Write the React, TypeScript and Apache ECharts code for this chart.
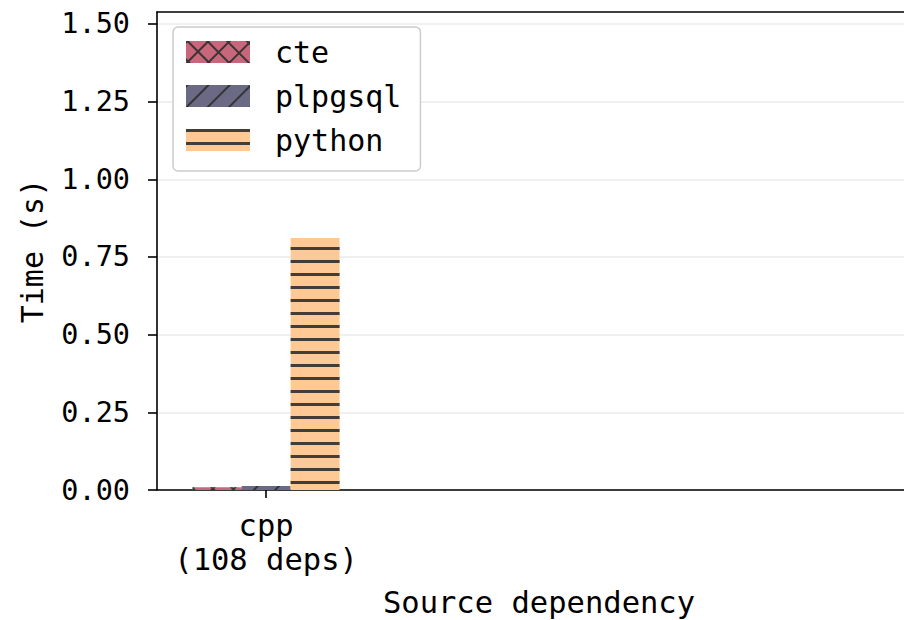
import React, { useEffect, useRef } from "react";
import * as echarts from "echarts";

// ---- data ----
const categories: string[] = ["cpp\n(108 deps)"];
const categoryPositions: number[] = [0];
const seriesNames: string[] = ["cte", "plpgsql", "python"];
const cteValues: number[] = [0.009];
const plpgsqlValues: number[] = [0.013];
const pythonValues: number[] = [0.811];
const yTicks: number[] = [0, 0.25, 0.5, 0.75, 1.0, 1.25, 1.5];
const yMax = 1.5385;
const xMin = -0.59;
const xMax = 3.45;

const FONT = "DejaVu Sans Mono";
const HATCH = "rgba(45,45,45,0.9)";

const crossRows: number[][] = [[1, 0], [2, 13], [2, 13], [2, 13], [2, 13], [2, 13], [2, 13]];

export default function App() {
  const ref = useRef<HTMLDivElement>(null);
  useEffect(() => {
    if (!ref.current) return;
    const chart = echarts.init(ref.current, null, { renderer: "svg" });
    const toData = (vals: number[]) => vals.map((v, i) => [categoryPositions[i], v]);
    const option: any = {
      animation: false,
      backgroundColor: "#ffffff",
      grid: {
        left: 157,
        top: 12,
        right: 0,
        bottom: 130,
        containLabel: false,
        outerBoundsMode: "none",
        show: false,
      },
      legend: {
        orient: "vertical",
        left: 173,
        top: 27,
        itemWidth: 64,
        itemHeight: 22,
        itemGap: 14,
        icon: "rect",
        padding: [10, 19, 16, 13],
        backgroundColor: "#ffffff",
        borderColor: "#cccccc",
        borderWidth: 1.5,
        borderRadius: 5,
        textStyle: {
          fontFamily: FONT,
          fontSize: 30,
          lineHeight: 30,
          color: "#000",
          padding: [0, 0, 0, 20],
        },
        data: seriesNames,
      },
      xAxis: [
        {
          type: "value",
          min: xMin,
          max: xMax,
          axisLine: { show: true, onZero: false, lineStyle: { color: "#000", width: 1.6 } },
          axisTick: {
            show: true,
            customValues: categoryPositions,
            length: 8,
            lineStyle: { color: "#000", width: 1.6 },
          },
          axisLabel: {
            customValues: categoryPositions,
            formatter: (v: number) => {
              const i = categoryPositions.indexOf(v);
              return i >= 0 ? categories[i] : "";
            },
            fontFamily: FONT,
            fontSize: 30.5,
            lineHeight: 34,
            color: "#000",
            margin: 18,
          },
          splitLine: { show: false },
          name: "Source dependency",
          nameLocation: "middle",
          nameGap: 97,
          nameTextStyle: {
            fontFamily: FONT,
            fontSize: 30.5,
            lineHeight: 30,
            color: "#000",
            padding: [0, 0, 0, 17],
          },
        },
        {
          type: "value",
          position: "top",
          min: xMin,
          max: xMax,
          axisLine: { show: true, onZero: false, lineStyle: { color: "#000", width: 1.6 } },
          axisTick: { show: false },
          axisLabel: { show: false },
          splitLine: { show: false },
        },
      ],
      yAxis: {
        type: "value",
        min: 0,
        max: yMax,
        interval: 0.25,
        axisLine: { show: true, onZero: false, lineStyle: { color: "#000", width: 1.6 } },
        axisTick: {
          show: true,
          customValues: yTicks,
          length: 9,
          lineStyle: { color: "#000", width: 1.6 },
        },
        axisLabel: {
          customValues: yTicks,
          formatter: (v: number) => v.toFixed(2),
          fontFamily: FONT,
          fontSize: 28.5,
          color: "#000",
          margin: 27,
        },
        splitLine: { show: true, lineStyle: { color: "#ebebeb", width: 1.6 } },
        name: "Time (s)",
        nameLocation: "middle",
        nameGap: 110,
        nameTextStyle: { fontFamily: FONT, fontSize: 30, color: "#000" },
      },
      series: [
        {
          name: seriesNames[0],
          type: "bar",
          data: toData(cteValues),
          barWidth: 49,
          barGap: "0%",
          itemStyle: {
            color: "#c8677b",
            decal: {
              symbol: "rect",
              symbolSize: 1,
              symbolKeepAspect: false,
              color: HATCH,
              dashArrayX: crossRows,
              dashArrayY: [2, 0],
              rotation: Math.PI / 4,
            },
          },
        },
        {
          name: seriesNames[1],
          type: "bar",
          data: toData(plpgsqlValues),
          barWidth: 49,
          barGap: "0%",
          itemStyle: {
            color: "#6b6a85",
            decal: {
              symbol: "rect",
              symbolSize: 1,
              symbolKeepAspect: false,
              color: HATCH,
              dashArrayX: [1, 0],
              dashArrayY: [2, 13],
              rotation: -Math.PI / 4,
            },
          },
        },
        {
          name: seriesNames[2],
          type: "bar",
          data: toData(pythonValues),
          barWidth: 49,
          barGap: "0%",
          itemStyle: {
            color: "#fec994",
            decal: {
              symbol: "rect",
              symbolSize: 1,
              symbolKeepAspect: false,
              color: HATCH,
              dashArrayX: [1, 0],
              dashArrayY: [3, 10],
              rotation: 0,
            },
          },
        },
      ],
    };
    chart.setOption(option);
    return () => chart.dispose();
  }, []);
  return (
    <div
      ref={ref}
      style={{ position: "absolute", left: 0, top: 0, width: 904, height: 620 }}
    />
  );
}
